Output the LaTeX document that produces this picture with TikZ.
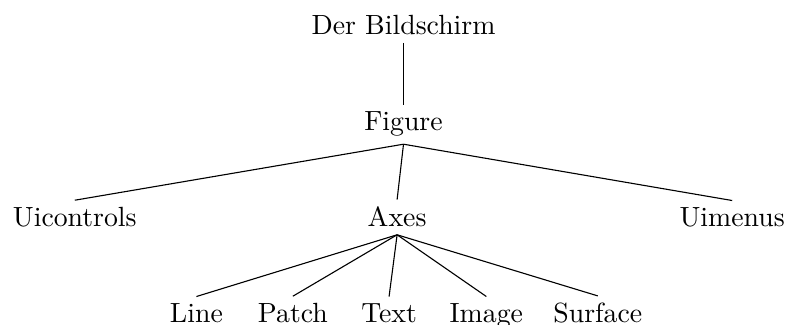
\documentclass[tikz,border=0pt]{standalone}
\usepackage{tikz}

\begin{document}
\begin{tikzpicture}[level distance=1.215cm,
		level 2/.style={sibling distance=4.16cm},
		level 3/.style={sibling distance=1.27cm},
		growth parent anchor=base,
		every node/.style={anchor=base,inner sep=2.5pt},
		edge from parent path={(\tikzparentnode.south) -- (\tikzchildnode.north)}]
		\useasboundingbox (-145.3pt,-104.4pt) rectangle (138.1pt,12.6pt);
		\node(bildschirm){Der Bildschirm}
		child{
			node(figure){Figure}
			child{node(uicontrols){Uicontrols}}
			child[xshift=-2.3pt]{
				node(axes){Axes}
				child{node(line){Line}}
				child{node[xshift=-1.4pt](patch){Patch}}
				child{node[xshift=-2.9pt](text){Text}}
				child{node[xshift=-4pt](image){Image}}
				child{node(surface){Surface}}}
			child{node(uimenus){Uimenus}}};
	\end{tikzpicture}
\end{document}
